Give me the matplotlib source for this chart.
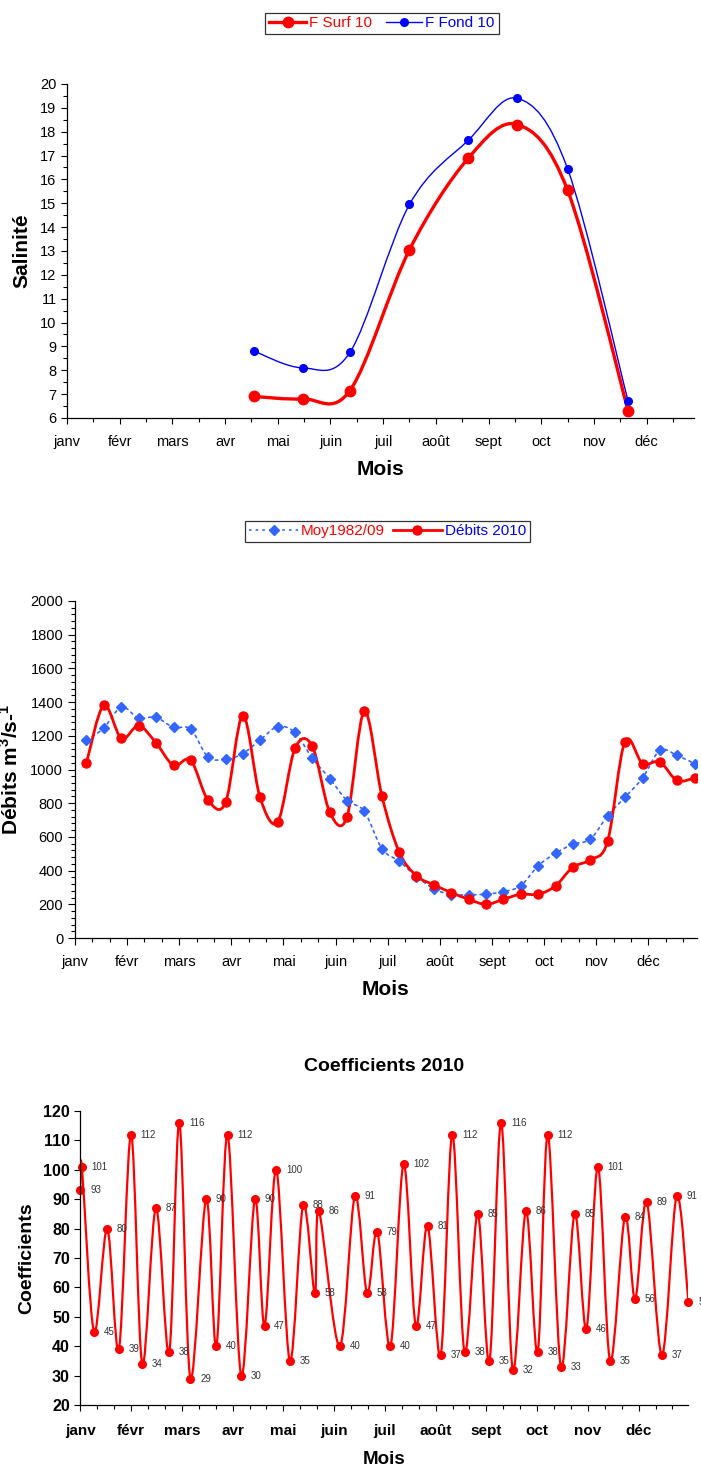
import numpy as np
import matplotlib
matplotlib.use("Agg")
import matplotlib.pyplot as plt
from matplotlib.path import Path
from matplotlib.patches import PathPatch
from matplotlib.lines import Line2D

plt.rcParams['font.family'] = 'Liberation Sans'
plt.rcParams['mathtext.fontset'] = 'custom'
plt.rcParams['mathtext.bf'] = 'Liberation Sans:bold'
plt.rcParams['mathtext.rm'] = 'Liberation Sans'

months = ['janv', 'févr', 'mars', 'avr', 'mai', 'juin', 'juil', 'août', 'sept', 'oct', 'nov', 'déc']

# salinity (x in months from 1 Jan)
sal_x = [3.55, 4.47, 5.37, 6.5, 7.62, 8.55, 9.5, 10.65]
surf = [6.9, 6.8, 7.15, 13.05, 16.9, 18.3, 15.55, 6.3]
fond = [8.8, 8.1, 8.75, 14.95, 17.65, 19.4, 16.45, 6.7]

# discharge, 10-day steps
deb_x = [0.22, 0.55, 0.89, 1.22, 1.55, 1.89, 2.22, 2.55, 2.89, 3.22, 3.55, 3.89,
         4.22, 4.55, 4.89, 5.22, 5.55, 5.89, 6.22, 6.55, 6.89, 7.22, 7.55, 7.89,
         8.22, 8.55, 8.89, 9.22, 9.55, 9.89, 10.22, 10.55, 10.89, 11.22, 11.55, 11.89]
debits_2010 = [1040, 1380, 1185, 1260, 1160, 1025, 1055, 820, 805, 1320, 835, 690,
               1125, 1140, 745, 720, 1345, 840, 510, 370, 315, 270, 230, 200,
               230, 260, 260, 310, 420, 465, 575, 1165, 1035, 1045, 935, 950]
moy_8209 = [1175, 1245, 1370, 1305, 1310, 1250, 1240, 1075, 1060, 1095, 1175, 1255,
            1220, 1068, 946, 815, 752, 530, 456, 365, 292, 257, 257, 260,
            276, 310, 430, 503, 557, 588, 726, 835, 950, 1113, 1084, 1034]

# tide coefficients
coef_x = [0.0, 0.03, 0.27, 0.53, 0.76, 1.0, 1.22, 1.49, 1.75, 1.95, 2.17, 2.48,
          2.68, 2.9, 3.17, 3.44, 3.63, 3.86, 4.13, 4.39, 4.62, 4.7, 5.11, 5.41,
          5.65, 5.85, 6.11, 6.37, 6.61, 6.84, 7.1, 7.33, 7.57, 7.83, 8.06, 8.29,
          8.52, 8.78, 9.01, 9.21, 9.47, 9.74, 9.97, 10.2, 10.44, 10.73, 10.93, 11.16,
          11.46, 11.75, 11.98]
coef = [93, 101, 45, 80, 39, 112, 34, 87, 38, 116, 29, 90,
        40, 112, 30, 90, 47, 100, 35, 88, 58, 86, 40, 91,
        58, 79, 40, 102, 47, 81, 37, 112, 38, 85, 35, 116,
        32, 86, 38, 112, 33, 85, 46, 101, 35, 84, 56, 89,
        37, 91, 55]


def smooth(ax, x, y, **kw):
    pts = np.column_stack([x, y]).astype(float)
    n = len(pts)
    verts = [pts[0]]
    codes = [Path.MOVETO]
    for i in range(n - 1):
        p0 = pts[max(i - 1, 0)]
        p1 = pts[i]
        p2 = pts[i + 1]
        p3 = pts[min(i + 2, n - 1)]
        verts += [p1 + (p2 - p0) / 6, p2 - (p3 - p1) / 6, p2]
        codes += [Path.CURVE4] * 3
    ax.add_patch(PathPatch(Path(verts, codes), facecolor='none', capstyle='round', **kw))


def style(ax):
    for s in ['top', 'right']:
        ax.spines[s].set_visible(False)
    for s in ['left', 'bottom']:
        ax.spines[s].set_linewidth(0.9)


fig = plt.figure(figsize=(7.01, 14.68), dpi=100)

# ---- salinity
ax1 = fig.add_axes([0.0956, 0.7153, 0.8944, 0.2275])
smooth(ax1, sal_x, fond, edgecolor='#0000FF', lw=1.0)
smooth(ax1, sal_x, surf, edgecolor='#FF0000', lw=2.4)
ax1.plot(sal_x, fond, 'o', color='#0000FF', ms=5.5, ls='none')
ax1.plot(sal_x, surf, 'o', color='#FF0000', ms=7.5, ls='none')
ax1.set_xlim(0, 11.9)
ax1.set_ylim(6, 20)
ax1.set_xticks(range(12))
ax1.set_xticklabels(months)
ax1.set_xticks(np.arange(0.5, 12, 1), minor=True)
ax1.set_yticks(range(6, 21))
ax1.set_yticks(np.arange(6.5, 20, 1), minor=True)
ax1.tick_params(labelsize=10.5, length=4, width=0.8)
ax1.tick_params(which='minor', length=3, width=0.8)
ax1.tick_params(axis='x', pad=8)
ax1.set_ylabel('Salinité', fontsize=15, fontweight='bold', labelpad=6)
ax1.set_xlabel('Mois', fontsize=15, fontweight='bold', labelpad=8)
style(ax1)
h1 = [Line2D([], [], color='#FF0000', lw=2.4, marker='o', ms=7.5),
      Line2D([], [], color='#0000FF', lw=1.0, marker='o', ms=5.5)]
leg = fig.legend(h1, ['F Surf 10', 'F Fond 10'], loc='center', bbox_to_anchor=(0.545, 0.984),
                 ncol=2, fontsize=11, frameon=True, fancybox=False, edgecolor='black',
                 handlelength=2.4, handletextpad=0.2, columnspacing=0.9, borderpad=0.25)
leg.get_frame().set_linewidth(0.9)
for t, c in zip(leg.get_texts(), ['#FF0000', '#0000FF']):
    t.set_color(c)

# ---- discharge
ax2 = fig.add_axes([0.107, 0.361, 0.887, 0.2296])
smooth(ax2, deb_x, moy_8209, edgecolor='#3366FF', lw=1.2, linestyle=(0, (1.5, 2.5)))
smooth(ax2, deb_x, debits_2010, edgecolor='#FF0000', lw=2.0)
ax2.plot(deb_x, moy_8209, 'D', color='#3366FF', ms=5, ls='none')
ax2.plot(deb_x, debits_2010, 'o', color='#FF0000', ms=6.5, ls='none')
ax2.set_xlim(0, 11.93)
ax2.set_ylim(0, 2000)
ax2.set_xticks(range(12))
ax2.set_xticklabels(months)
ax2.set_xticks(np.arange(0, 12, 1 / 3), minor=True)
ax2.set_yticks(range(0, 2001, 200))
ax2.set_yticks(range(0, 2001, 40), minor=True)
ax2.tick_params(labelsize=10.5, length=5, width=0.8)
ax2.tick_params(which='minor', length=3, width=0.8)
ax2.tick_params(axis='x', pad=7)
ax2.set_ylabel(r'Débits m$^{\mathbf{3}}$/s-$^{\mathbf{1}}$', fontsize=15, fontweight='bold', labelpad=6)
ax2.set_xlabel('Mois', fontsize=15, fontweight='bold', labelpad=8)
style(ax2)
h2 = [Line2D([], [], color='#3366FF', lw=1.2, ls=(0, (1.5, 2.5)), marker='D', ms=5),
      Line2D([], [], color='#FF0000', lw=2.0, marker='o', ms=6.5)]
leg2 = fig.legend(h2, ['Moy1982/09', 'Débits 2010'], loc='center', bbox_to_anchor=(0.553, 0.638),
                  ncol=2, fontsize=11, frameon=True, fancybox=False, edgecolor='black',
                  handlelength=3.2, handletextpad=0.2, columnspacing=0.5, borderpad=0.25)
leg2.get_frame().set_linewidth(0.9)
for t, c in zip(leg2.get_texts(), ['#FF0000', '#0000FF']):
    t.set_color(c)

# ---- coefficients
ax3 = fig.add_axes([0.1146, 0.0429, 0.8674, 0.2003])
smooth(ax3, coef_x, coef, edgecolor='#FF0000', lw=1.6)
ax3.plot(coef_x, coef, 'o', color='#FF0000', ms=5.5, ls='none', clip_on=False)
for x, v in zip(coef_x, coef):
    ax3.annotate(str(v), (x, v), xytext=(7, 0), textcoords='offset points',
                 fontsize=7, color='#333333', va='center', ha='left', annotation_clip=False)
ax3.set_xlim(0, 11.98)
ax3.set_ylim(20, 120)
ax3.set_xticks(range(12))
ax3.set_xticklabels(months, fontweight='bold')
ax3.set_xticks(np.arange(0, 12, 1 / 3), minor=True)
ax3.set_yticks(range(20, 121, 10))
for lab in ax3.get_yticklabels():
    lab.set_fontweight('bold')
ax3.tick_params(labelsize=11.5, length=4, width=0.8)
ax3.tick_params(axis='x', labelsize=11)
ax3.tick_params(which='minor', length=3, width=0.8)
ax3.tick_params(axis='x', pad=10)
ax3.set_ylabel('Coefficients', fontsize=14, fontweight='bold', labelpad=6)
ax3.set_xlabel('Mois', fontsize=13.5, fontweight='bold', labelpad=9)
ax3.set_title('Coefficients 2010', fontsize=14, fontweight='bold', pad=29)
style(ax3)

fig.savefig('out.png', dpi=100)
